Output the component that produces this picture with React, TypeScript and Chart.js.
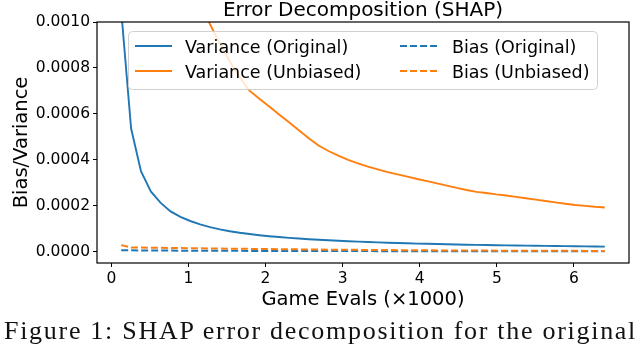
import React, { useEffect, useRef } from "react";
import { Chart, registerables } from "chart.js";

Chart.register(...registerables);

const TITLE = "Error Decomposition (SHAP)";
const X_LABEL = "Game Evals (\u00d71000)";
const Y_LABEL = "Bias/Variance";
const CAPTION = "Figure 1: SHAP error decomposition for the original";

const seriesLabels = ["Variance (Original)", "Variance (Unbiased)", "Bias (Original)", "Bias (Unbiased)"];
const seriesColors = ["#1f77b4", "#ff7f0e", "#1f77b4", "#ff7f0e"];
const seriesDashed = [false, false, true, true];

// thousands of game evaluations
const evals = [
  0.128, 0.256, 0.384, 0.512, 0.64, 0.768, 0.896, 1.024, 1.152, 1.28,
  1.408, 1.536, 1.664, 1.792, 1.92, 2.048, 2.176, 2.304, 2.432, 2.56,
  2.688, 2.816, 2.944, 3.072, 3.2, 3.328, 3.456, 3.584, 3.712, 3.84,
  3.968, 4.096, 4.224, 4.352, 4.48, 4.608, 4.736, 4.864, 4.992, 5.12,
  5.248, 5.376, 5.504, 5.632, 5.76, 5.888, 6.016, 6.144, 6.272, 6.4,
];

const varianceOriginal = [
  0.00105, 0.000537, 0.00035, 0.000262, 0.000212, 0.000175, 0.000151, 0.000133, 0.000118, 0.000106,
  0.0000965, 0.0000885, 0.0000818, 0.0000762, 0.0000712, 0.0000668, 0.000063, 0.0000595, 0.0000565, 0.0000537,
  0.0000512, 0.0000488, 0.0000467, 0.0000448, 0.000043, 0.0000413, 0.0000398, 0.0000384, 0.000037, 0.0000358,
  0.0000346, 0.0000336, 0.0000325, 0.0000316, 0.0000307, 0.0000298, 0.000029, 0.0000283, 0.0000276, 0.0000269,
  0.0000262, 0.0000256, 0.000025, 0.0000244, 0.0000239, 0.0000234, 0.0000229, 0.0000224, 0.000022, 0.0000215,
];

const varianceUnbiased = [
  0.0098, 0.0049, 0.0033, 0.0024, 0.0019, 0.00162, 0.0014, 0.00123, 0.00109, 0.00099,
  0.000905, 0.000828, 0.000758, 0.000701, 0.000666, 0.000632, 0.000597, 0.000563, 0.000528, 0.000494,
  0.000462, 0.000438, 0.000418, 0.000399, 0.000384, 0.00037, 0.000358, 0.000346, 0.000336, 0.000326,
  0.000316, 0.000307, 0.000297, 0.000287, 0.000277, 0.000268, 0.00026, 0.000255, 0.000249, 0.000244,
  0.000238, 0.000232, 0.000226, 0.00022, 0.000214, 0.000208, 0.000203, 0.000199, 0.000195, 0.000192,
];

const biasOriginal = [
  0.000006, 0.0000052, 0.0000048, 0.0000045, 0.0000042, 0.000004, 0.0000038, 0.0000036, 0.0000034, 0.0000032,
  0.0000031, 0.000003, 0.0000029, 0.0000028, 0.0000027, 0.0000026, 0.0000025, 0.0000024, 0.0000023, 0.0000022,
  0.0000021, 0.000002, 0.000002, 0.0000019, 0.0000018, 0.0000018, 0.0000017, 0.0000017, 0.0000016, 0.0000016,
  0.0000015, 0.0000015, 0.0000014, 0.0000014, 0.0000014, 0.0000013, 0.0000013, 0.0000013, 0.0000012, 0.0000012,
  0.0000012, 0.0000011, 0.0000011, 0.0000011, 0.0000011, 0.000001, 0.000001, 0.000001, 0.000001, 0.000001,
];

const biasUnbiased = [
  0.000028, 0.0000175, 0.000017, 0.0000165, 0.000016, 0.0000155, 0.000015, 0.0000145, 0.000014, 0.0000135,
  0.000013, 0.0000125, 0.000012, 0.0000115, 0.000011, 0.0000106, 0.0000102, 0.0000098, 0.0000094, 0.000009,
  0.0000086, 0.0000082, 0.0000078, 0.0000075, 0.0000072, 0.0000069, 0.0000066, 0.0000063, 0.000006, 0.0000057,
  0.0000055, 0.0000052, 0.000005, 0.0000048, 0.0000046, 0.0000044, 0.0000042, 0.000004, 0.0000039, 0.0000037,
  0.0000036, 0.0000034, 0.0000033, 0.0000032, 0.0000031, 0.000003, 0.0000029, 0.0000028, 0.0000027, 0.0000026,
];

const seriesValues = [varianceOriginal, varianceUnbiased, biasOriginal, biasUnbiased];

const xTickValues = [0, 1, 2, 3, 4, 5, 6];
const yTickValues = [0, 0.0002, 0.0004, 0.0006, 0.0008, 0.001];

const FONT = "'DejaVu Sans', sans-serif";

const framePlugin = {
  id: "frameAndTitle",
  afterDraw(chart: any) {
    const { ctx, chartArea } = chart;
    const { left, right, top, bottom } = chartArea;
    ctx.save();
    ctx.strokeStyle = "#000";
    ctx.lineWidth = 1.2;
    ctx.strokeRect(left, top, right - left, bottom - top);
    ctx.fillStyle = "#000";
    ctx.font = `20px ${FONT}`;
    ctx.textAlign = "center";
    ctx.textBaseline = "alphabetic";
    ctx.fillText(TITLE, (left + right) / 2, 16);
    ctx.restore();
  },
};

const legendPlugin = {
  id: "innerLegend",
  afterDatasetsDraw(chart: any) {
    const { ctx } = chart;
    const datasets = chart.data.datasets;
    ctx.save();
    const bx = 128.5, by = 31.5, bw = 469, bh = 58;
    ctx.beginPath();
    ctx.roundRect(bx, by, bw, bh, 4);
    ctx.fillStyle = "rgba(255,255,255,0.8)";
    ctx.fill();
    ctx.strokeStyle = "rgba(204,204,204,0.9)";
    ctx.lineWidth = 1;
    ctx.stroke();
    const cols = [
      { hx0: 135, hx1: 172, tx: 185 },
      { hx0: 400, hx1: 437, tx: 452 },
    ];
    const rowsY = [46, 71];
    datasets.forEach((ds: any, i: number) => {
      const col = cols[Math.floor(i / 2)];
      const y = rowsY[i % 2];
      ctx.beginPath();
      ctx.setLineDash(ds.borderDash || []);
      ctx.strokeStyle = ds.borderColor;
      ctx.lineWidth = ds.borderWidth;
      ctx.moveTo(col.hx0, y);
      ctx.lineTo(col.hx1, y);
      ctx.stroke();
      ctx.setLineDash([]);
      ctx.fillStyle = "#000";
      ctx.font = `17.5px ${FONT}`;
      ctx.textAlign = "left";
      ctx.textBaseline = "alphabetic";
      ctx.fillText(ds.label, col.tx, y + 6.5);
    });
    ctx.restore();
  },
};

export default function App() {
  const canvasRef = useRef<HTMLCanvasElement | null>(null);
  const captionRef = useRef<HTMLDivElement | null>(null);

  useEffect(() => {
    const canvas = canvasRef.current;
    if (!canvas) return;
    const datasets = seriesLabels.map((label, i) => ({
      label,
      data: evals.map((x, j) => ({ x, y: seriesValues[i][j] })),
      borderColor: seriesColors[i],
      backgroundColor: seriesColors[i],
      borderWidth: seriesDashed[i] ? 2 : 1.9,
      borderDash: seriesDashed[i] ? [7, 3] : [],
      pointRadius: 0,
      tension: 0,
      fill: false,
      order: seriesLabels.length - i,
    }));
    const chart = new Chart(canvas, {
      type: "line",
      data: { datasets },
      plugins: [framePlugin, legendPlugin],
      options: {
        animation: false,
        responsive: false,
        devicePixelRatio: 1,
        layout: { padding: { left: 0, top: 22, right: 11, bottom: 0 } },
        plugins: { legend: { display: false }, tooltip: { enabled: false }, title: { display: false } },
        scales: {
          x: {
            type: "linear",
            min: -0.186,
            max: 6.714,
            afterFit: (s: any) => { s.height = 81; },
            afterBuildTicks: (s: any) => { s.ticks = xTickValues.map((v) => ({ value: v })); },
            ticks: {
              font: { family: FONT, size: 15.5 },
              color: "#000",
              padding: 3,
              maxRotation: 0,
              callback: (v: any) => String(v),
            },
            grid: { display: true, drawOnChartArea: false, drawTicks: true, tickLength: 4, color: "#000", lineWidth: 1 },
            border: { display: false },
            title: {
              display: true,
              text: X_LABEL,
              font: { family: FONT, size: 19.5 },
              color: "#000",
              padding: { top: 0, bottom: 32 },
            },
          },
          y: {
            type: "linear",
            min: -0.00005,
            max: 0.001,
            afterFit: (s: any) => { s.width = 97; },
            afterBuildTicks: (s: any) => { s.ticks = yTickValues.map((v) => ({ value: v })); },
            ticks: {
              font: { family: FONT, size: 15.5 },
              color: "#000",
              padding: 3,
              callback: (v: any) => Number(v).toFixed(4),
            },
            grid: { display: true, drawOnChartArea: false, drawTicks: true, tickLength: 4, color: "#000", lineWidth: 1 },
            border: { display: false },
            title: {
              display: true,
              text: Y_LABEL,
              font: { family: FONT, size: 19.5 },
              color: "#000",
              padding: { top: 10, bottom: 0 },
            },
          },
        },
      },
    } as any);

    const cap = captionRef.current;
    if (cap) {
      const size = 26;
      const mctx = document.createElement("canvas").getContext("2d")!;
      mctx.font = `${size}px 'Liberation Serif'`;
      const w = mctx.measureText(CAPTION).width;
      const spacing = (634 - w) / CAPTION.length;
      cap.style.fontSize = `${size}px`;
      cap.style.lineHeight = `${size}px`;
      cap.style.letterSpacing = `${spacing}px`;
      cap.style.top = `${340 - 0.8375 * size}px`;
    }
    return () => chart.destroy();
  }, []);

  return (
    <div style={{ position: "absolute", left: 0, top: 0, width: 640, height: 344, overflow: "hidden", background: "#fff" }}>
      <canvas ref={canvasRef} width={640} height={344} style={{ display: "block", width: 640, height: 344 }} />
      <div
        ref={captionRef}
        style={{
          position: "absolute",
          left: 4,
          top: 318,
          whiteSpace: "nowrap",
          fontFamily: "'Liberation Serif', serif",
          fontSize: 26,
          color: "#111",
        }}
      >
        {CAPTION}
      </div>
    </div>
  );
}
